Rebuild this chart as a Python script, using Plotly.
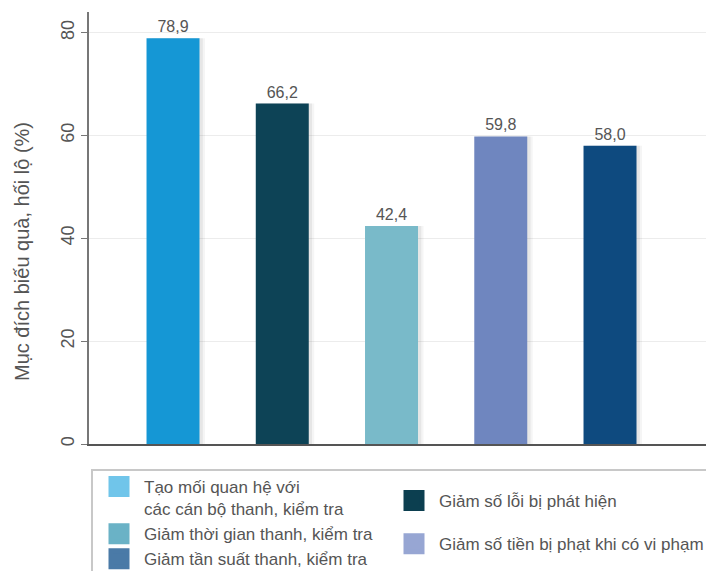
import plotly.graph_objects as go

# ---- data ----
categories = [
    "Tạo mối quan hệ với các cán bộ thanh, kiểm tra",
    "Giảm số lỗi bị phát hiện",
    "Giảm thời gian thanh, kiểm tra",
    "Giảm số tiền bị phạt khi có vi phạm",
    "Giảm tần suất thanh, kiểm tra",
]
values = [78.9, 66.2, 42.4, 59.8, 58.0]
bar_colors = ["#1597D5", "#0D4356", "#79BAC9", "#6F86BF", "#0E4A7F"]

legend_labels = [
    "Tạo mối quan hệ với<br>các cán bộ thanh, kiểm tra",
    "Giảm số lỗi bị phát hiện",
    "Giảm thời gian thanh, kiểm tra",
    "Giảm số tiền bị phạt khi có vi phạm",
    "Giảm tần suất thanh, kiểm tra",
]
legend_colors = ["#70C5EA", "#0C3F50", "#6AB2C6", "#97A6D3", "#4A7AA7"]
left_column = [0, 2, 4]
right_column = [1, 3]

y_ticks = [0, 20, 40, 60, 80]
y_title = "Mục đích biếu quà, hối lộ (%)"

FONT = "Liberation Sans, Arial, sans-serif"
TXT = "#555555"
BAR_W = 0.485

labels = [f"{v:.1f}".replace(".", ",") for v in values]

fig = go.Figure()
# soft shadow on the right side of each bar
for off, alpha in ((0.05, 0.05), (0.03, 0.08)):
    fig.add_trace(go.Bar(
        x=categories, y=values, width=BAR_W, offset=-BAR_W / 2 + off,
        marker=dict(color=f"rgba(60,60,60,{alpha})", line=dict(width=0)),
        showlegend=False, hoverinfo="skip",
    ))
fig.add_trace(go.Bar(
    x=categories, y=values, width=BAR_W, offset=-BAR_W / 2,
    marker=dict(color=bar_colors, line=dict(width=0)),
    text=labels, textposition="outside", cliponaxis=False,
    textfont=dict(family=FONT, size=16, color=TXT),
    showlegend=False, hoverinfo="skip",
))

for col, lg in ((left_column, "legend"), (right_column, "legend2")):
    for i in col:
        fig.add_trace(go.Scatter(
            x=[None], y=[None], mode="markers", name=legend_labels[i],
            legendgroup=f"g{i}", legend=lg,
            marker=dict(symbol="square", size=16, color=legend_colors[i],
                        line=dict(color=legend_colors[i], width=5)),
        ))

legend_common = dict(
    font=dict(family=FONT, size=17, color=TXT),
    bgcolor="rgba(0,0,0,0)", borderwidth=0,
    orientation="v", xanchor="left", yanchor="top",
    xref="container", yref="container",
    valign="top", itemwidth=40,
)

fig.update_layout(
    width=714, height=571,
    barmode="overlay",
    margin=dict(l=81, r=0, t=4, b=135, autoexpand=False),
    paper_bgcolor="white", plot_bgcolor="white",
    font=dict(family=FONT, color=TXT),
    legend=dict(x=86 / 714, y=1 - 461 / 571, tracegroupgap=0, **legend_common),
    legend2=dict(x=381 / 714, y=1 - 475 / 571, tracegroupgap=18, **legend_common),
    xaxis=dict(
        type="category", range=[-0.769, 5.025],
        showticklabels=False, ticks="", showgrid=False,
        showline=True, linecolor="#555555", linewidth=1.5,
        zeroline=False, fixedrange=True,
    ),
    yaxis=dict(
        range=[0, 84], tickvals=y_ticks, ticks="outside", ticklen=6,
        tickcolor="#777777", tickwidth=1.2, tickangle=-90,
        tickfont=dict(family=FONT, size=18, color=TXT),
        showline=True, linecolor="#777777", linewidth=1.5,
        showgrid=True, gridcolor="#ECECEC", gridwidth=1,
        zeroline=False,
    ),
    annotations=[dict(
        text=y_title, xref="paper", yref="paper",
        x=(14 - 81) / 633, y=(436 - 244) / 432,
        xanchor="center", yanchor="middle", textangle=-90, showarrow=False,
        font=dict(family=FONT, size=20, color=TXT),
    )],
    shapes=[dict(
        type="rect", xref="paper", yref="paper",
        x0=3 / 633, x1=1.01, y0=-0.33, y1=(436 - 462) / 432,
        line=dict(color="#C8C8C8", width=2), fillcolor="rgba(0,0,0,0)", layer="below",
    )],
)

fig.write_html("out.html")
